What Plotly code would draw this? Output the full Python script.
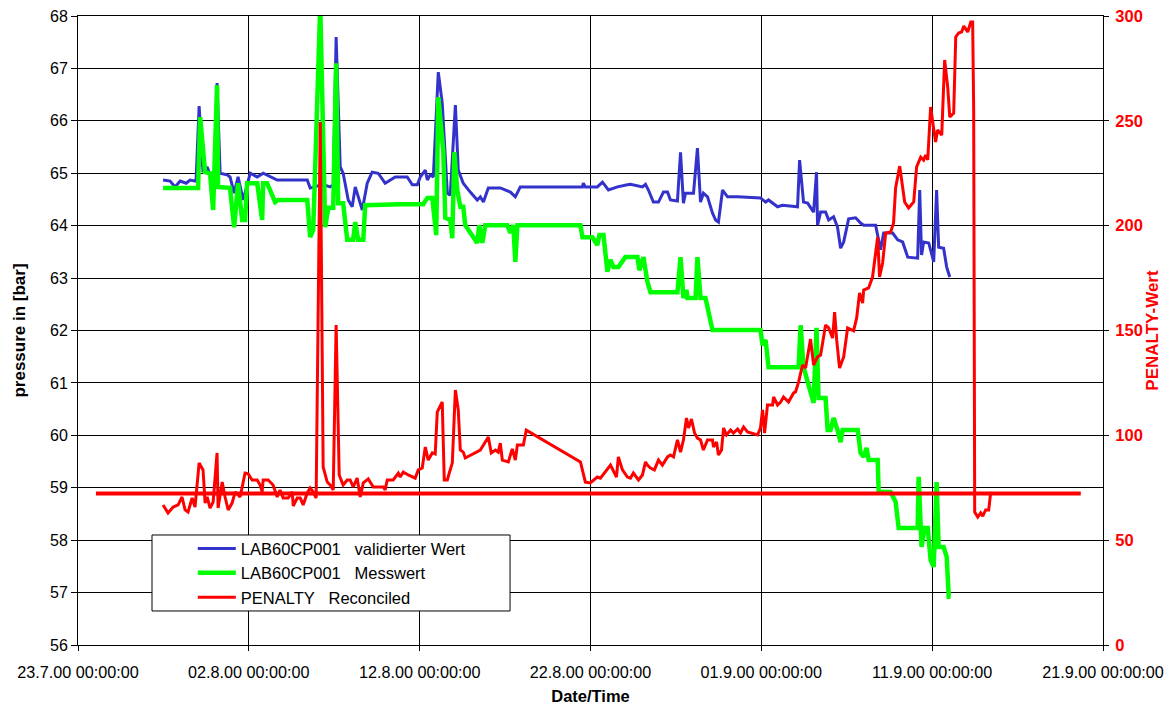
import pandas as pd
import plotly.graph_objects as go

BASE_DATE = "2000-07-23"

# ---- LAB60CP001 validierter Wert (days since 23.7.00, bar)
blue_days = [4.98, 5.39, 5.68, 5.98, 6.33, 6.56, 6.91, 7.09, 7.32, 7.56, 7.73, 7.97, 8.14, 8.32, 8.73, 8.90,
             9.14, 9.37, 9.67, 10.08, 10.49, 10.84, 11.66, 13.42, 13.59, 13.88, 14.29, 14.76, 14.94, 15.11,
             15.35, 15.52, 15.82, 16.05, 16.23, 16.64, 16.93, 17.22, 17.57, 17.98, 18.57, 19.27, 19.57, 19.86,
             20.04, 20.33, 20.45, 20.62, 20.80, 21.09, 21.32, 21.62, 21.79, 22.09, 22.26, 22.55, 22.96, 23.37,
             23.55, 23.73, 24.02, 24.72, 25.31, 25.60, 25.89, 29.53, 29.58, 29.70, 30.40, 30.70, 31.05, 31.58,
             32.16, 32.34, 33.04, 33.22, 33.39, 33.68, 33.98, 34.27, 34.51, 34.68, 35.09, 35.27, 35.44, 35.56,
             36.03, 36.26, 36.44, 36.61, 36.85, 37.14, 37.32, 37.49, 37.73, 38.02, 38.61, 39.95, 40.25, 40.42,
             40.95, 41.24, 42.12, 42.24, 42.47, 42.71, 43.06, 43.23, 43.29, 43.47, 43.76, 43.94, 44.23, 44.46,
             44.64, 44.82, 45.11, 45.52, 45.81, 45.99, 46.69, 46.98, 47.16, 47.69, 47.98, 48.27, 48.57, 48.92,
             49.15, 49.27, 49.38, 49.50, 49.80, 50.09, 50.26, 50.38, 50.67, 50.85, 51.03]
blue_vals = [64.87, 64.85, 64.74, 64.85, 64.81, 64.87, 64.85, 66.28, 65.02, 65.12, 64.97, 64.97, 66.72, 65.00, 64.97, 64.93,
             64.62, 64.93, 64.49, 65.00, 64.93, 65.00, 64.87, 64.87, 64.72, 64.74, 64.79, 64.74, 64.78, 67.60,
             65.12, 65.00, 64.49, 64.36, 64.74, 64.30, 64.81, 65.02, 65.00, 64.81, 64.93, 64.93, 64.78, 64.78,
             64.93, 65.06, 64.87, 64.97, 64.93, 66.93, 66.34, 64.62, 64.58, 66.30, 65.06, 64.81, 64.64, 64.49,
             64.55, 64.45, 64.72, 64.72, 64.64, 64.55, 64.74, 64.74, 64.81, 64.74, 64.74, 64.83, 64.68, 64.74,
             64.78, 64.79, 64.74, 64.79, 64.68, 64.45, 64.45, 64.64, 64.64, 64.49, 64.47, 65.40, 64.43, 64.62,
             64.62, 65.48, 64.45, 64.62, 64.55, 64.24, 64.11, 64.07, 64.68, 64.55, 64.55, 64.53, 64.45, 64.49,
             64.36, 64.39, 64.36, 65.25, 64.45, 64.43, 64.26, 65.02, 64.01, 64.26, 64.26, 64.11, 64.17, 63.97,
             63.57, 63.69, 64.13, 64.15, 64.05, 64.01, 64.01, 63.54, 63.86, 63.86, 63.73, 63.69, 63.40, 63.38,
             63.38, 64.68, 63.44, 63.69, 63.67, 63.31, 64.68, 63.59, 63.57, 63.21, 63.02]

# ---- LAB60CP001 Messwert
green_days = [4.98, 7.03, 7.15, 7.44, 7.73, 7.91, 8.14, 8.20, 8.90, 9.14, 9.37, 9.61, 9.78, 9.90, 10.49, 10.78,
              10.84, 11.07, 11.54, 11.72, 13.42, 13.59, 13.77, 14.18, 14.47, 14.65, 14.94, 15.11, 15.23, 15.52,
              15.76, 16.11, 16.23, 16.40, 16.70, 16.81, 18.86, 20.21, 20.45, 20.74, 20.97, 21.09, 21.38, 21.50,
              21.79, 21.91, 22.03, 22.20, 22.38, 22.55, 22.67, 23.37, 23.49, 23.67, 23.84, 25.13, 25.31, 25.48,
              25.60, 25.72, 29.41, 29.53, 30.11, 30.40, 30.52, 30.76, 30.99, 31.17, 31.34, 31.63, 32.04, 32.75,
              32.86, 33.10, 33.33, 33.51, 35.09, 35.27, 35.44, 35.62, 35.68, 36.15, 36.26, 36.44, 36.73, 36.91,
              37.14, 39.95, 40.07, 40.25, 40.42, 42.18, 42.30, 42.47, 42.77, 43.06, 43.23, 43.35, 43.76, 43.88,
              44.05, 44.23, 44.46, 44.64, 44.76, 45.64, 45.81, 45.99, 46.16, 46.28, 46.81, 46.87, 47.57, 47.86,
              48.04, 49.15, 49.21, 49.38, 49.56, 49.74, 49.91, 50.09, 50.26, 50.38, 50.67, 50.85, 50.97, 51.08]
green_vals = [64.72, 64.72, 66.07, 65.02, 65.00, 64.30, 66.68, 64.74, 64.72, 63.97, 64.81, 64.11, 64.11, 64.81, 64.81, 64.11,
              64.81, 64.81, 64.45, 64.49, 64.49, 63.78, 63.92, 68.20, 63.97, 64.34, 64.34, 67.10, 64.43, 64.43,
              63.73, 63.73, 64.07, 63.73, 63.73, 64.39, 64.41, 64.41, 64.53, 64.53, 63.82, 66.45, 65.44, 64.15,
              64.11, 63.76, 65.40, 64.68, 64.36, 64.36, 64.01, 63.67, 64.01, 63.67, 64.01, 64.01, 63.86, 64.01,
              63.31, 64.01, 64.01, 63.78, 63.78, 63.63, 63.82, 63.82, 63.12, 63.35, 63.21, 63.21, 63.40, 63.40,
              63.15, 63.40, 62.93, 62.73, 62.73, 63.40, 62.62, 62.77, 62.62, 62.62, 63.40, 62.62, 62.62, 62.39,
              62.01, 62.01, 61.72, 61.82, 61.30, 61.30, 62.10, 61.30, 60.92, 60.62, 62.05, 60.71, 60.71, 60.10,
              60.10, 60.33, 60.10, 59.87, 60.10, 60.10, 59.66, 59.59, 59.76, 59.53, 59.53, 58.92, 58.92, 58.73,
              58.23, 58.23, 59.21, 57.87, 58.23, 58.23, 57.62, 57.49, 59.11, 57.87, 57.87, 57.68, 56.92, 56.92]

# ---- PENALTY Reconciled (right axis)
red_days = [4.98, 5.27, 5.57, 5.86, 6.09, 6.27, 6.44, 6.68, 6.85, 7.09, 7.32, 7.44, 7.56, 7.73, 7.91, 8.14,
            8.20, 8.44, 8.61, 8.79, 9.02, 9.20, 9.49, 9.78, 9.96, 10.19, 10.49, 10.66, 10.78, 10.84, 11.13, 11.42,
            11.66, 11.83, 12.01, 12.30, 12.54, 12.60, 12.83, 13.01, 13.18, 13.42, 13.59, 13.77, 13.94, 14.18,
            14.35, 14.59, 14.76, 14.94, 15.11, 15.29, 15.52, 15.76, 15.93, 16.11, 16.34, 16.52, 16.70, 16.99,
            17.28, 17.87, 17.98, 18.10, 18.45, 18.75, 18.86, 19.04, 19.33, 19.74, 19.92, 20.15, 20.33, 20.50,
            20.74, 20.91, 21.03, 21.32, 21.44, 21.62, 21.73, 21.91, 22.09, 22.26, 22.38, 22.55, 22.67, 23.55,
            24.02, 24.19, 24.43, 24.60, 24.72, 24.84, 25.19, 25.42, 25.60, 25.72, 26.07, 26.24, 29.41, 29.70,
            29.99, 30.40, 30.58, 31.17, 31.52, 31.63, 31.87, 32.16, 32.34, 32.51, 32.81, 33.04, 33.22, 33.33,
            33.51, 33.74, 33.98, 34.21, 34.51, 34.68, 34.86, 35.09, 35.27, 35.44, 35.62, 35.74, 35.91, 36.09,
            36.26, 36.44, 36.61, 36.85, 37.14, 37.20, 37.38, 37.49, 37.67, 37.79, 37.96, 38.20, 38.37, 38.61,
            38.78, 38.96, 39.19, 39.78, 39.95, 40.07, 40.19, 40.36, 40.66, 40.72, 40.95, 41.13, 41.30, 41.59,
            41.89, 42.00, 42.18, 42.41, 42.59, 42.88, 43.06, 43.29, 43.47, 43.76, 43.94, 44.17, 44.29, 44.41,
            44.58, 44.82, 45.05, 45.40, 45.58, 45.75, 45.93, 45.99, 46.28, 46.51, 46.81, 46.92, 47.10, 47.28,
            47.57, 47.74, 47.86, 48.10, 48.39, 48.62, 48.92, 49.09, 49.33, 49.50, 49.62, 49.74, 49.91, 50.20,
            50.32, 50.56, 50.73, 50.91, 51.03, 51.26, 51.38, 51.55, 51.73, 51.85, 52.08, 52.26, 52.37, 52.43,
            52.49, 52.67, 52.84, 52.96, 53.13, 53.31, 53.43]
red_vals = [66.8, 63.0, 65.8, 66.8, 70.6, 64.4, 63.4, 70.1, 65.8, 86.8, 83.5, 67.7, 70.6, 65.3, 68.2, 91.6,
            65.3, 77.7, 70.6, 64.4, 67.7, 73.0, 70.6, 82.0, 81.6, 78.7, 78.7, 76.3, 73.0, 78.7, 78.7, 76.3,
            70.6, 73.9, 70.1, 70.1, 73.0, 66.3, 70.1, 70.1, 66.8, 72.5, 74.9, 73.0, 70.1, 249.4,
            84.9, 77.7, 76.3, 73.9, 152.6, 81.1, 76.3, 78.7, 78.7, 75.4, 79.6, 70.6, 77.3, 79.2,
            75.4, 75.4, 73.9, 78.7, 78.7, 82.0, 80.1, 82.5, 81.1, 79.6, 83.5, 84.4, 94.4, 88.2,
            91.6, 91.1, 111.1, 115.9, 78.7, 78.7, 82.0, 86.8, 121.6, 112.1, 93.0, 92.0, 89.2, 93.0,
            99.2, 91.6, 93.0, 92.0, 96.3, 88.2, 87.3, 93.5, 88.2, 95.4, 95.4, 102.5, 87.3, 77.7,
            77.3, 80.1, 79.6, 85.8, 80.1, 89.7, 83.5, 80.1, 79.6, 82.0, 78.7, 81.1, 87.3, 85.8,
            84.4, 83.5, 88.2, 85.8, 89.7, 90.6, 89.7, 97.8, 92.0, 97.8, 108.3, 103.5, 107.8, 101.1,
            98.7, 97.8, 93.0, 97.8, 97.8, 94.4, 96.8, 90.6, 93.0, 103.5, 100.2, 102.5, 101.1, 103.0,
            101.1, 104.0, 101.6, 100.2, 103.5, 112.1, 101.1, 114.5, 114.5, 118.3, 114.5, 115.9, 118.3, 115.9,
            120.2, 120.7, 125.4, 133.5, 132.1, 145.9, 133.5, 137.4, 138.3, 152.6, 151.2, 146.4, 158.8, 145.5,
            132.1, 137.4, 151.2, 149.8, 156.0, 167.9, 163.1, 169.3, 170.3, 175.5, 194.6, 175.5, 182.2, 196.5,
            197.0, 201.3, 218.0, 228.4, 211.3, 208.4, 211.3, 228.0, 232.7, 231.3, 233.7, 231.3, 256.6, 239.9,
            245.6, 243.2, 279.0, 266.1, 251.8, 253.7, 290.0, 291.9, 292.4, 295.2, 292.4, 297.1, 297.1, 255.2,
            63.4, 61.0, 63.0, 61.5, 64.4, 64.4, 73.0]

# ---- constant penalty limit (right axis)
limit_days = [1.05, 58.7]
limit_vals = [72.3, 72.3]

legend_names = ["LAB60CP001\u00a0\u00a0\u00a0validierter Wert",
                "LAB60CP001\u00a0\u00a0\u00a0Messwert",
                "PENALTY\u00a0\u00a0\u00a0Reconciled"]

base = pd.Timestamp(BASE_DATE)


def to_dates(days):
    return base + pd.to_timedelta(days, unit="D")


FONT = "Arial, 'Liberation Sans', sans-serif"

fig = go.Figure()
fig.add_trace(go.Scatter(x=to_dates(blue_days), y=blue_vals, mode="lines", name=legend_names[0],
                         line=dict(color="#3333CC", width=3), yaxis="y"))
fig.add_trace(go.Scatter(x=to_dates(green_days), y=green_vals, mode="lines", name=legend_names[1],
                         line=dict(color="#00FF00", width=4.5), yaxis="y"))
fig.add_trace(go.Scatter(x=to_dates(red_days), y=red_vals, mode="lines", name=legend_names[2],
                         line=dict(color="#FF0000", width=3), yaxis="y2"))
fig.add_trace(go.Scatter(x=to_dates(limit_days), y=limit_vals, mode="lines", showlegend=False,
                         line=dict(color="#FF0000", width=4), yaxis="y2"))

fig.update_layout(
    width=1168, height=705,
    margin=dict(l=78, r=65, t=16, b=60),
    paper_bgcolor="white", plot_bgcolor="white",
    font=dict(family=FONT, size=16, color="black"),
    xaxis=dict(
        type="date",
        range=[base, base + pd.Timedelta(days=60)],
        tick0=base, dtick=10 * 86400000,
        tickformat="%d.%-m.%y %H:%M:%S",
        showgrid=True, gridcolor="black", gridwidth=1,
        showline=True, linecolor="black", linewidth=1, mirror=True,
        ticks="outside", ticklen=5, tickcolor="black",
        ticklabelstandoff=8,
        tickfont=dict(size=16.2),
        title=dict(text="<b>Date/Time</b>", font=dict(size=16.5), standoff=10),
        zeroline=False, automargin=False,
    ),
    yaxis=dict(
        range=[56, 68], dtick=1,
        showgrid=True, gridcolor="black", gridwidth=1,
        showline=True, linecolor="black", linewidth=1,
        ticks="outside", ticklen=6, tickcolor="black",
        tickfont=dict(size=16),
        title=dict(text="<b>pressure in [bar]</b>", font=dict(size=17), standoff=20),
        zeroline=False, automargin=False,
    ),
    yaxis2=dict(
        range=[0, 300], dtick=50, overlaying="y", side="right",
        showgrid=False,
        showline=True, linecolor="black", linewidth=1,
        ticks="outside", ticklen=5, tickcolor="black",
        ticklabelstandoff=3,
        tickfont=dict(size=16.5, color="#FF0000", weight="bold"),
        title=dict(text="<b>PENALTY-Wert</b>", font=dict(size=17, color="#FF0000"), standoff=4),
        zeroline=False, automargin=False,
    ),
    legend=dict(
        x=0.112, y=0.181, xanchor="left", yanchor="top",
        bgcolor="rgba(0,0,0,0)", borderwidth=0,
        font=dict(size=16.5, color="black"),
        itemwidth=38, tracegroupgap=0,
    ),
    shapes=[dict(type="rect", xref="paper", yref="paper",
                 x0=0.0722, x1=0.4215, y0=0.0541, y1=0.1749,
                 line=dict(color="black", width=1), fillcolor="white", layer="above")],
)

fig.write_html("out.html",
               config={"displayModeBar": False},
               post_script="document.body.style.margin='0px';document.body.style.overflow='hidden';")
